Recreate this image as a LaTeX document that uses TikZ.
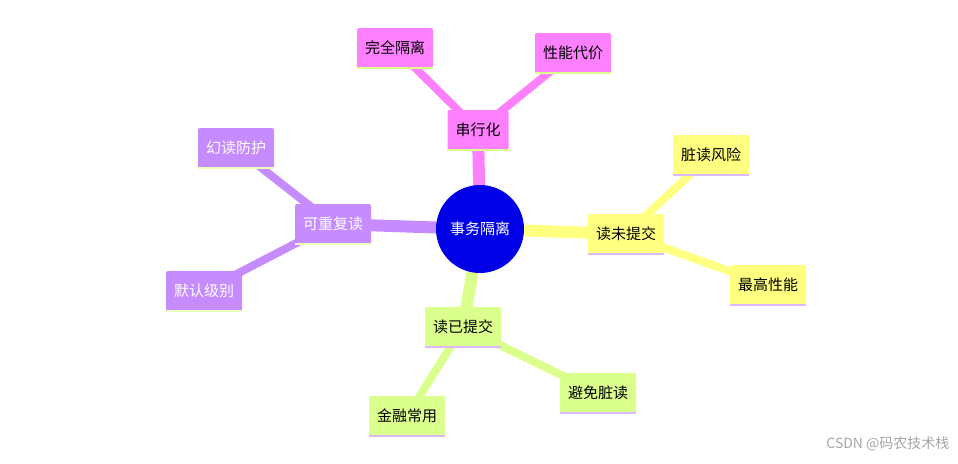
\documentclass[tikz,border=0pt]{standalone}
\usepackage{fontspec}
\setmainfont{Noto Sans CJK SC}
\begin{document}
\begin{tikzpicture}[x=1pt,y=-1pt,
  box/.style={rectangle,rounded corners=2pt,minimum height=40pt,inner xsep=8pt,font=\fontsize{15}{18}\selectfont},
  pinkb/.style={box,fill=pinkc},
  yelb/.style={box,fill=yelc},
  grnb/.style={box,fill=grnc},
  purb/.style={box,fill=purc,text=white},
  lk/.style={line width=#1,line cap=round},
]
\definecolor{pinkc}{HTML}{FF80FF}
\definecolor{yelc}{HTML}{FFFF80}
\definecolor{grnc}{HTML}{DAFF8C}
\definecolor{purc}{HTML}{C58BFF}
\definecolor{cen}{HTML}{0000E6}
\useasboundingbox (0,0) rectangle (958,463);
\coordinate (c) at (480,229);
% connectors first
\coordinate (s) at (478,130);
\coordinate (s1) at (395,48);
\coordinate (s2) at (573,53);
\coordinate (y) at (626,234);
\coordinate (y1) at (711,155);
\coordinate (y2) at (768,285);
\coordinate (g) at (463,327);
\coordinate (g1) at (598,393);
\coordinate (g2) at (407,416);
\coordinate (p) at (333,224);
\coordinate (p1) at (236,148);
\coordinate (p2) at (204,291);
\draw[lk=12pt,pinkc] (c)--(s);
\draw[lk=8pt,pinkc] (s)--(s1) (s)--(s2);
\draw[lk=12pt,yelc] (c)--(y);
\draw[lk=8pt,yelc] (y)--(y1) (y)--(y2);
\draw[lk=12pt,grnc] (c)--(g);
\draw[lk=8pt,grnc] (g)--(g1) (g)--(g2);
\draw[lk=12pt,purc] (c)--(p);
\draw[lk=8pt,purc] (p)--(p1) (p)--(p2);
\node[circle,fill=cen,minimum size=88pt,text=white,font=\fontsize{15}{18}\selectfont] (center) at (c) {事务隔离};
\node[pinkb] (ns) at (s) {串行化};
\node[pinkb] (ns1) at (s1) {完全隔离};
\node[pinkb] (ns2) at (s2) {性能代价};
\node[yelb] (ny) at (y) {读未提交};
\node[yelb] (ny1) at (y1) {脏读风险};
\node[yelb] (ny2) at (y2) {最高性能};
\node[grnb] (ng) at (g) {读已提交};
\node[grnb] (ng1) at (g1) {避免脏读};
\node[grnb] (ng2) at (g2) {金融常用};
\node[purb] (np) at (p) {可重复读};
\node[purb] (np1) at (p1) {幻读防护};
\node[purb] (np2) at (p2) {默认级别};
\foreach \n/\col in {ns/grnc,ns1/grnc,ns2/grnc,ny/purc!60,ny1/purc!60,ny2/purc!60,ng/purc!60,ng1/purc!60,ng2/purc!60,np/grnc!60,np1/grnc!60,np2/grnc!60}
  \draw[\col,line width=2pt] (\n.south west)--(\n.south east);
\node[text=gray!70,font=\fontsize{14}{16}\selectfont,anchor=east] (wm) at (953,444) {CSDN @码农技术栈};
\end{tikzpicture}
\end{document}
